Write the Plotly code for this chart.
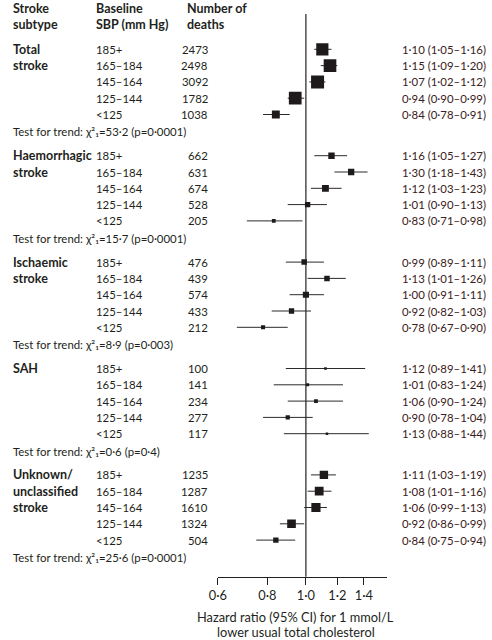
import math
import plotly.graph_objects as go

# ---------------- data ----------------
group_label_lines = [["Total", "stroke"], ["Haemorrhagic", "stroke"], ["Ischaemic", "stroke"],
                     ["SAH"], ["Unknown/", "unclassified", "stroke"]]
sbp_bands = ["185+", "165–184", "145–164", "125–144", "<125"]
deaths = [[2473, 2498, 3092, 1782, 1038],
          [662, 631, 674, 528, 205],
          [476, 439, 574, 433, 212],
          [100, 141, 234, 277, 117],
          [1235, 1287, 1610, 1324, 504]]
hr = [[1.10, 1.15, 1.07, 0.94, 0.84],
      [1.16, 1.30, 1.12, 1.01, 0.83],
      [0.99, 1.13, 1.00, 0.92, 0.78],
      [1.12, 1.01, 1.06, 0.90, 1.13],
      [1.11, 1.08, 1.06, 0.92, 0.84]]
ci_low = [[1.05, 1.09, 1.02, 0.90, 0.78],
          [1.05, 1.18, 1.03, 0.90, 0.71],
          [0.89, 1.01, 0.91, 0.82, 0.67],
          [0.89, 0.83, 0.90, 0.78, 0.88],
          [1.03, 1.01, 0.99, 0.86, 0.75]]
ci_high = [[1.16, 1.20, 1.12, 0.99, 0.91],
           [1.27, 1.43, 1.23, 1.13, 0.98],
           [1.11, 1.26, 1.11, 1.03, 0.90],
           [1.41, 1.24, 1.24, 1.04, 1.44],
           [1.19, 1.16, 1.13, 0.99, 0.94]]
trend_chi2 = ["53·2", "15·7", "8·9", "0·6", "25·6"]
trend_p = ["0·0001", "0·0001", "0·003", "0·4", "0·0001"]
tick_vals = [0.6, 0.8, 1.0, 1.2, 1.4]
tick_text = ["0·6", "0·8", "1·0", "1·2", "1·4"]
header_cols = [["Stroke", "subtype"], ["Baseline", "SBP (mm Hg)"], ["Number of", "deaths"]]
axis_title_lines = ["Hazard ratio (95% CI) for 1 mmol/L", "lower usual total cholesterol"]

# ---------------- layout constants ----------------
W, H = 492, 640
FONT = "Lato"
FS = 11.4
FS_BOLD = 12.5
FS_AXIS = 12.8
TXT = "#231f20"
HRTXT = "#3a2020"
first_row = 49.3
group_step = 106.4
row_step = 16.3
trend_gap = 17.3
axis_y = 576.7
line_top = 14
x_col_group = 3
x_col_sbp = 88
x_col_deaths = 204
x_col_hr = 399


def fmt(v):
    return f"{v:.2f}".replace(".", "·")


fig = go.Figure()
annotations = []


def add_text(x, y, text, bold=False, anchor="left", color=TXT, size=None):
    if size is None:
        size = FS_BOLD if bold else FS
    annotations.append(dict(
        x=x / W, xref="paper", y=y, yref="y", text=f"<b>{text}</b>" if bold else text,
        showarrow=False, xanchor=anchor, yanchor="middle", borderpad=0,
        font=dict(family=FONT, size=size, color=color)))


# headers
hdr_x = [x_col_group, x_col_sbp, 180]
for cx, lines in zip(hdr_x, header_cols):
    for j, t in enumerate(lines):
        add_text(cx, 8.3 + j * 16, t, bold=True)

# reference line at HR = 1
fig.add_trace(go.Scatter(x=[1, 1], y=[line_top, axis_y], mode="lines",
                         line=dict(color=TXT, width=1.2), hoverinfo="skip", showlegend=False))

for g in range(len(hr)):
    top = first_row + g * group_step
    ys = [top + i * row_step for i in range(len(sbp_bands))]
    # CI lines
    lx, ly = [], []
    for i in range(len(sbp_bands)):
        lx += [ci_low[g][i], ci_high[g][i], None]
        ly += [ys[i], ys[i], None]
    fig.add_trace(go.Scatter(x=lx, y=ly, mode="lines", line=dict(color="#2a2a2a", width=1),
                             hoverinfo="skip", showlegend=False))
    # squares sized by inverse standard error
    sizes = [1.215 / math.log(ci_high[g][i] / ci_low[g][i]) for i in range(len(sbp_bands))]
    fig.add_trace(go.Scatter(x=hr[g], y=ys, mode="markers",
                             marker=dict(symbol="square", size=sizes, color="#1e1a1b",
                                         opacity=1, line=dict(width=0)),
                             showlegend=False))
    # texts
    for j, t in enumerate(group_label_lines[g]):
        add_text(x_col_group, ys[j], t, bold=True)
    for i in range(len(sbp_bands)):
        add_text(x_col_sbp, ys[i], sbp_bands[i])
        add_text(x_col_deaths, ys[i], str(deaths[g][i]), anchor="right")
        add_text(x_col_hr, ys[i], f"{fmt(hr[g][i])} ({fmt(ci_low[g][i])}–{fmt(ci_high[g][i])})",
                 color=HRTXT)
    add_text(x_col_group, ys[-1] + trend_gap,
             f"Test for trend: χ²₁={trend_chi2[g]} (p={trend_p[g]})")

for j, t in enumerate(axis_title_lines):
    annotations.append(dict(x=292 / W, xref="paper", y=616.7 + j * 15, yref="y", text=t,
                            showarrow=False, xanchor="center", yanchor="middle", borderpad=0,
                            font=dict(family=FONT, size=FS_AXIS, color=TXT)))

x0, x1 = 212.7, 385
fig.update_layout(
    width=W, height=H, margin=dict(l=0, r=0, t=0, b=0),
    paper_bgcolor="white", plot_bgcolor="white",
    annotations=annotations,
    xaxis=dict(type="log", range=[math.log10(0.6), math.log10(1.6)],
               domain=[x0 / W, x1 / W], anchor="free", position=(H - axis_y) / H,
               showline=True, linecolor=TXT, linewidth=1.2,
               ticks="outside", ticklen=7, tickcolor=TXT, tickwidth=1.2,
               tickvals=tick_vals, ticktext=tick_text,
               tickfont=dict(family=FONT, size=FS_AXIS, color=TXT),
               showgrid=False, zeroline=False, fixedrange=True),
    yaxis=dict(range=[H, 0], domain=[0, 1], visible=False, fixedrange=True),
)

fig.write_html("out.html", config={"displayModeBar": False},
               post_script="document.body.style.margin='0';document.body.style.overflow='hidden';")
